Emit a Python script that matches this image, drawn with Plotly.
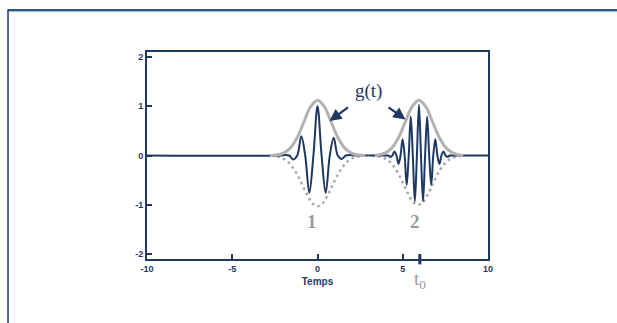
import plotly.graph_objects as go

# ---------------- data ----------------
# wavelet 1 (centre 0): key points (extremes and zero crossings)
w1_t = [-10.0, -2.2, -1.90, -1.66, -1.43, -1.19, -0.95, -0.72, -0.48, -0.24, 0.0,
        0.24, 0.48, 0.72, 0.95, 1.19, 1.43, 1.66, 1.90, 2.2, 3.0]
w1_y = [0.0, 0.0, 0.01, 0.0, -0.08, 0.0, 0.39, 0.0, -0.76, 0.0, 1.0,
        0.0, -0.76, 0.0, 0.36, 0.0, -0.07, 0.0, 0.01, 0.0, 0.0]

# wavelet 2 (centre ~5.95, higher frequency)
w2_t = [3.0, 4.03, 4.15, 4.27, 4.39, 4.51, 4.63, 4.75, 4.87, 4.99, 5.11, 5.23, 5.35,
        5.47, 5.59, 5.71, 5.83, 5.95, 6.07, 6.19, 6.31, 6.43, 6.55, 6.67,
        6.79, 6.91, 7.03, 7.15, 7.27, 7.39, 7.51, 7.63, 7.75, 7.87, 10.0]
w2_y = [0.0, 0.0, 0.0, -0.03, 0.0, 0.08, 0.0, -0.17, 0.0, 0.33, 0.0, -0.60, 0.0,
        0.79, 0.0, -0.93, 0.0, 1.03, 0.0, -0.93, 0.0, 0.79, 0.0, -0.60,
        0.0, 0.33, 0.0, -0.17, 0.0, 0.08, 0.0, -0.03, 0.0, 0.0, 0.0]

# grey envelope g(t), packet 1 and packet 2
g1_t = [-2.8, -2.4, -2.0, -1.6, -1.2, -0.8, -0.4, 0.0, 0.4, 0.8, 1.2, 1.6, 2.0, 2.4, 2.8]
g1_y = [0.0, 0.01, 0.05, 0.15, 0.36, 0.68, 0.99, 1.12, 0.99, 0.68, 0.36, 0.15, 0.05, 0.01, 0.0]
g2_t = [3.35, 3.55, 3.95, 4.35, 4.75, 5.15, 5.55, 5.95, 6.35, 6.75, 7.15, 7.55, 7.95, 8.35, 8.55]
g2_y = [0.0, 0.01, 0.05, 0.15, 0.36, 0.68, 0.99, 1.12, 0.99, 0.68, 0.36, 0.15, 0.05, 0.01, 0.0]

# dotted lower envelope -g(t)
d1_t = [-2.7, -2.4, -2.1, -1.8, -1.5, -1.2, -0.9, -0.6, -0.3, 0.0,
        0.3, 0.6, 0.9, 1.2, 1.5, 1.8, 2.1, 2.4, 2.7]
d1_y = [0.0, -0.02, -0.05, -0.11, -0.22, -0.38, -0.59, -0.80, -0.97, -1.03,
        -0.97, -0.80, -0.59, -0.38, -0.22, -0.11, -0.05, -0.02, 0.0]
d2_t = [3.2, 3.5, 3.8, 4.1, 4.4, 4.7, 5.0, 5.3, 5.6, 5.9,
        6.2, 6.5, 6.8, 7.1, 7.4, 7.7, 8.0, 8.3, 8.6]
d2_y = [0.0, -0.01, -0.04, -0.09, -0.19, -0.34, -0.55, -0.77, -0.94, -1.0,
        -0.94, -0.77, -0.55, -0.34, -0.19, -0.09, -0.04, -0.01, 0.0]

x_tick_vals = [-10, -5, 0, 5, 10]
x_tick_text = ["-10", "-5", "0", "5", "10"]
y_tick_vals = [-2, -1, 0, 1, 2]
y_tick_text = ["-2", "-1", "0", "1", "2"]

t0 = 6.0
label_pos = {"1": (-0.3, -1.34), "2": (5.69, -1.34)}
g_label_pos = (3.0, 1.31)
arrow_tips = [(0.7, 0.70), (5.16, 0.73)]
arrow_tails = [(1.88, 1.0), (4.08, 1.0)]

# ---------------- style ----------------
NAVY = "#1f3862"
GREY = "#b2b2b2"
LABEL_GREY = "#9a9a9a"
SANS = "Liberation Sans, Arial, sans-serif"
SERIF = "Liberation Serif, Times New Roman, serif"

fig = go.Figure()
for tx, ty in [(d1_t, d1_y), (d2_t, d2_y)]:
    fig.add_trace(go.Scatter(x=tx, y=ty, mode="lines",
                             line=dict(color="#a8a8a8", width=2.5, dash="2.5px,3.5px", shape="spline"),
                             hoverinfo="skip"))
for tx, ty in [(w1_t, w1_y), (w2_t, w2_y)]:
    fig.add_trace(go.Scatter(x=tx, y=ty, mode="lines",
                             line=dict(color=NAVY, width=2, shape="spline", smoothing=1.0),
                             hoverinfo="skip"))
for tx, ty in [(g1_t, g1_y), (g2_t, g2_y)]:
    fig.add_trace(go.Scatter(x=tx, y=ty, mode="lines",
                             line=dict(color=GREY, width=3, shape="spline"),
                             hoverinfo="skip"))

axis_common = dict(showgrid=False, zeroline=False, showline=True, linecolor=NAVY,
                   linewidth=2, mirror=True, ticks="inside", ticklen=5, tickwidth=1.5,
                   tickcolor=NAVY,
                   tickfont=dict(family=SANS, size=9, color=NAVY, weight="bold"))

fig.update_xaxes(range=[-10, 10], tickmode="array", tickvals=x_tick_vals, ticktext=x_tick_text,
                 title=dict(text="Temps", font=dict(family=SANS, size=10, color=NAVY, weight="bold"),
                            standoff=5),
                 **axis_common)
fig.update_yaxes(range=[-2.1, 2.1], tickmode="array", tickvals=y_tick_vals, ticktext=y_tick_text,
                 **axis_common)

annotations = []
for txt, (lx, ly) in label_pos.items():
    annotations.append(dict(x=lx, y=ly, xref="x", yref="y", text=txt, showarrow=False,
                            font=dict(family=SERIF, size=19, color=LABEL_GREY, weight="bold")))
annotations.append(dict(x=g_label_pos[0], y=g_label_pos[1], xref="x", yref="y", text="g(t)",
                        showarrow=False, font=dict(family=SERIF, size=19, color=NAVY)))
for (hx, hy), (ax_, ay_) in zip(arrow_tips, arrow_tails):
    annotations.append(dict(x=hx, y=hy, xref="x", yref="y", ax=ax_, ay=ay_, axref="x", ayref="y",
                            text="", showarrow=True, arrowhead=2, arrowsize=1.1, arrowwidth=2.2,
                            arrowcolor=NAVY))
annotations.append(dict(x=t0, y=-0.035, xref="x", yref="paper", yanchor="top",
                        text="t<sub>0</sub>", showarrow=False,
                        font=dict(family=SERIF, size=19, color=LABEL_GREY)))

shapes = [
    # t0 marker on the time axis
    dict(type="line", xref="x", yref="paper", x0=t0, x1=t0, y0=-0.026, y1=0.024,
         line=dict(color=NAVY, width=3)),
    # slide frame (top and left)
    dict(type="line", xref="paper", yref="paper", x0=-0.408, x1=1.40, y0=1.2029, y1=1.2029,
         line=dict(color="#34557f", width=2)),
    dict(type="line", xref="paper", yref="paper", x0=-0.405, x1=1.40, y0=1.1955, y1=1.1955,
         line=dict(color="#9fb4d0", width=1)),
    dict(type="line", xref="paper", yref="paper", x0=-0.4076, x1=-0.4076, y0=1.205, y1=-0.35,
         line=dict(color="#24427a", width=1.6)),
]

fig.update_layout(width=617, height=323, margin=dict(l=147, r=129, t=52, b=64),
                  paper_bgcolor="white", plot_bgcolor="white", showlegend=False,
                  annotations=annotations, shapes=shapes)

fig.write_html("out.html")
